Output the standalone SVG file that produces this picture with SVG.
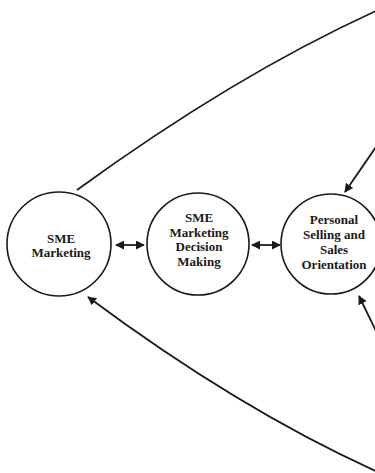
<svg xmlns="http://www.w3.org/2000/svg" width="375" height="473" viewBox="0 0 375 473">
<style>
.node{fill:none;stroke:#1a1a1a;stroke-width:1.6}
.lbl{font-family:"Liberation Serif","Times New Roman",serif;font-weight:bold;font-size:13px;fill:#1a1a1a;text-anchor:middle}
.con{fill:none;stroke:#1a1a1a;stroke-width:1.8}
</style>
<defs>
<marker id="ah" viewBox="0 0 10 10" refX="9" refY="5" markerWidth="5" markerHeight="5" orient="auto-start-reverse" markerUnits="strokeWidth">
<path d="M0,0 L10,5 L0,10 Z" fill="#1a1a1a"/>
</marker>
</defs>
<rect width="375" height="473" fill="#fff"/>
<g id="connectors">
<path class="con" d="M77,190 Q235,75 378,10"/>
<path class="con" d="M376,147 L345,192" marker-end="url(#ah)"/>
<path class="con" d="M378,472 Q240,410 88,297" marker-end="url(#ah)"/>
<path class="con" d="M376,331 L359,296" marker-end="url(#ah)"/>
<path class="con" d="M116,245 L144,245" marker-start="url(#ah)" marker-end="url(#ah)"/>
<path class="con" d="M252,245 L280,245" marker-start="url(#ah)" marker-end="url(#ah)"/>
</g>
<g id="node-sme-marketing">
<circle class="node" cx="59" cy="244" r="52"/>
<text class="lbl" x="61" y="243">SME</text>
<text class="lbl" x="61" y="257">Marketing</text>
</g>
<g id="node-decision-making">
<circle class="node" cx="198" cy="244" r="51"/>
<text class="lbl" x="199" y="222">SME</text>
<text class="lbl" x="199" y="236.5">Marketing</text>
<text class="lbl" x="199" y="251">Decision</text>
<text class="lbl" x="199" y="265.5">Making</text>
</g>
<g id="node-personal-selling">
<circle class="node" cx="331" cy="244" r="50"/>
<text class="lbl" x="334" y="224">Personal</text>
<text class="lbl" x="334" y="239">Selling and</text>
<text class="lbl" x="334" y="254">Sales</text>
<text class="lbl" x="334" y="269">Orientation</text>
</g>
</svg>
